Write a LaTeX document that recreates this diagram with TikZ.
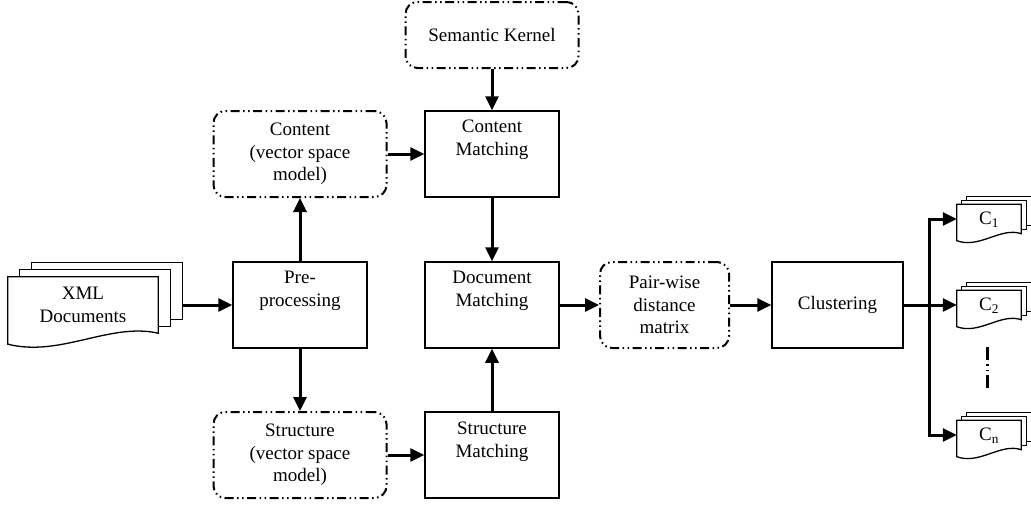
\documentclass[tikz,border=0pt]{standalone}
\usepackage{fontspec}
\setmainfont{Liberation Serif}
\usetikzlibrary{arrows.meta,calc}
\newcommand\docstack[4]{% name, wave amplitude, dx, dy
  \draw[docline] ($(#1.north west)+(2*#3,-2*#4)$) rectangle ($(#1.south east)+(2*#3,-2*#4)$);
  \draw[docline] ($(#1.north west)+(#3,-#4)$) rectangle ($(#1.south east)+(#3,-#4)$);
  \draw[docline] (#1.north west) -- (#1.north east) -- (#1.south east)
    .. controls ($(#1.south east)!0.32!(#1.south west)+(0,-#2)$) and ($(#1.south east)!0.65!(#1.south west)+(0,2.2*#2)$)
    .. ($(#1.south west)+(0,#2)$) -- cycle;
}
\begin{document}
\begin{tikzpicture}[x=1pt,y=-1pt,
  font=\fontsize{19}{22.5}\selectfont,
  box/.style={draw,line width=1.5pt,inner sep=0pt,rectangle,minimum width=134pt,minimum height=86pt},
  dbox/.style={draw,line width=2pt,rounded corners=12pt,
    dash pattern=on 9pt off 3.5pt on 1.5pt off 3.5pt on 1.5pt off 3.5pt,
    inner sep=0pt,align=center,minimum width=173pt,minimum height=86pt},
  txt/.style={align=center,inner sep=0pt},
  holder/.style={inner sep=0pt},
  arr/.style={line width=3pt,-{Triangle[length=14pt,width=13pt]}},
  docline/.style={line width=1.3pt,fill=white},
]
\useasboundingbox (0,0) rectangle (1031,506);

% boxes
\node[dbox,minimum height=66pt] (sem) at (492,35) {Semantic Kernel};
\node[dbox] (convsm) at (300,154) {Content\\(vector space\\model)};
\node[dbox] (strvsm) at (300,455) {Structure\\(vector space\\model)};
\node[dbox,minimum width=129pt] (pair) at (664.5,305) {Pair-wise\\distance\\matrix};

\node[box] (conm) at (492,154) {};
\node[txt] (conmt) at (492,140) {Content\\Matching};
\node[box] (pre) at (300,305) {};
\node[txt] (pret) at (300,291) {Pre-\\processing};
\node[box] (docm) at (492,305) {};
\node[txt] (docmt) at (492,291) {Document\\Matching};
\node[box] (strm) at (492,455) {};
\node[txt] (strmt) at (492,442) {Structure\\Matching};
\node[box,minimum width=131pt] (clus) at (837.5,305) {Clustering};

% XML documents
\node[holder,minimum width=150pt,minimum height=56pt] (xml) at (83,305) {};
\docstack{xml}{11}{12}{7}
\node[txt] (xmlt) at (83,305) {XML\\Documents};
\coordinate (xmlout) at ($(xml.east)+(24,0)$);

% cluster documents
\node[holder,minimum width=64pt,minimum height=29pt] (c1) at (989,219) {};
\docstack{c1}{7}{5}{4}
\node[txt] (c1t) at (989,220) {C\textsubscript{1}};
\node[holder,minimum width=64pt,minimum height=29pt] (c2) at (989,305) {};
\docstack{c2}{7}{5}{4}
\node[txt] (c2t) at (989,306) {C\textsubscript{2}};
\node[holder,minimum width=64pt,minimum height=29pt] (cn) at (989,435) {};
\docstack{cn}{7}{5}{4}
\node[txt] (cnt) at (989,436) {C\textsubscript{n}};

% vertical ellipsis mark
\coordinate (v1) at (987,347);
\coordinate (v2) at (987,392);
\draw[line width=3pt,dash pattern=on 13pt off 4pt on 1.5pt off 4pt on 1.5pt off 4pt on 13pt off 20pt] (v1) -- (v2);

% connectors
\draw[arr] (xmlout) -- (pre.west);
\draw[arr] (pre.north) -- (convsm.south);
\draw[arr] (pre.south) -- (strvsm.north);
\draw[arr] (convsm.east) -- (conm.west);
\draw[arr] (strvsm.east) -- (strm.west);
\draw[arr] (sem.south) -- (conm.north);
\draw[arr] (conm.south) -- (docm.north);
\draw[arr] (strm.north) -- (docm.south);
\draw[arr] (docm.east) -- (pair.west);
\draw[arr] (pair.east) -- (clus.west);
\coordinate (br) at (929,305);
\draw[line width=3pt] (clus.east) -- (br);
\draw[arr] (br) |- (c1.west);
\draw[arr] (br) -- (c2.west);
\draw[arr] (br) |- (cn.west);
\end{tikzpicture}
\end{document}
